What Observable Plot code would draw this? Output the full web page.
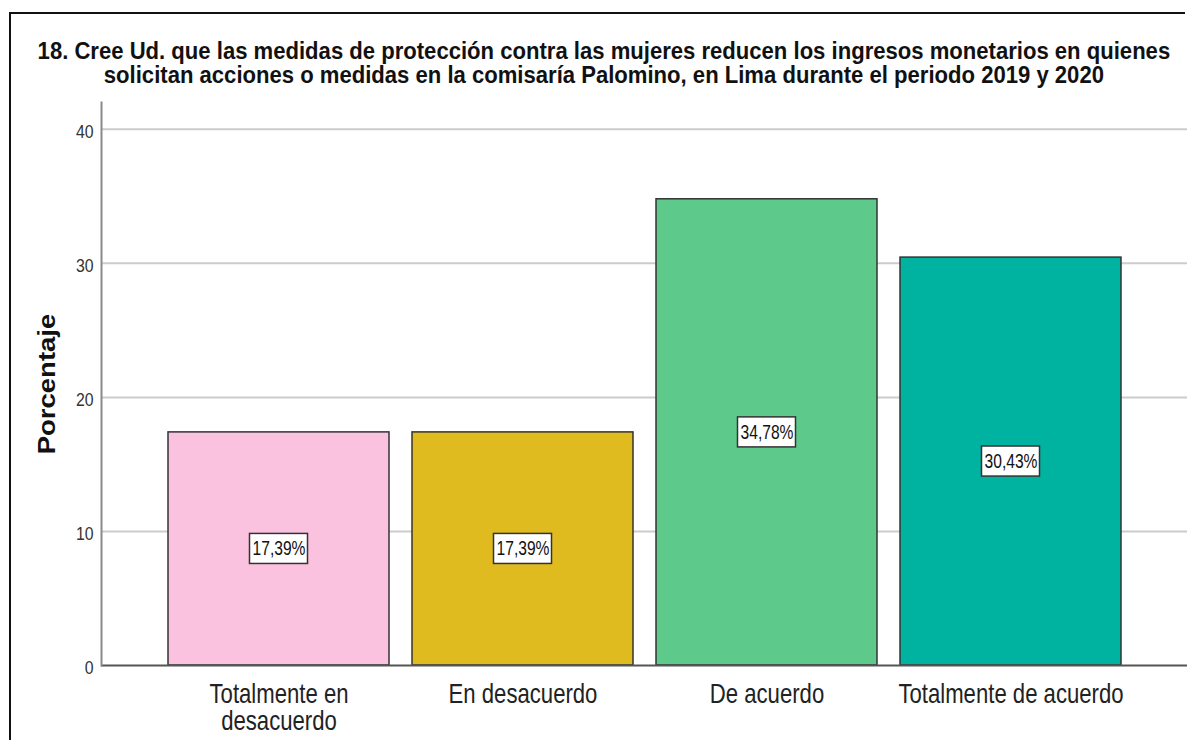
<!DOCTYPE html>
<html>
<head>
<meta charset="utf-8">
<script src="https://cdn.jsdelivr.net/npm/d3@7"></script>
<script src="https://cdn.jsdelivr.net/npm/@observablehq/plot@0.6"></script>
<style>
  html, body { margin: 0; padding: 0; background: #fff; }
  #wrap { position: relative; width: 1187px; height: 740px; overflow: hidden; font-family: "Liberation Sans", Arial, sans-serif; }
  #border { position: absolute; left: 9px; top: 12px; width: 1174px; height: 760px; border-left: 2px solid #111; border-top: 2px solid #111; pointer-events: none; }
  #head { position: relative; height: 95px; }
  #title { position: absolute; left: -96px; width: 1400px; top: 39px; text-align: center; font-size: 23px; font-weight: bold; line-height: 24px; color: #111; white-space: nowrap; }
  #title span { display: inline-block; transform: scaleX(0.96); transform-origin: 50% 50%; }
  #chart svg { display: block; }
</style>
</head>
<body>
<div id="wrap">
  <div id="border"></div>
  <div id="head"><div id="title"></div></div>
  <div id="chart"></div>
</div>
<script>
const titleLines = [
  "18. Cree Ud. que las medidas de protección contra las mujeres reducen los ingresos monetarios en quienes",
  "solicitan acciones o medidas en la comisaría Palomino, en Lima durante el periodo 2019 y 2020"
];
const categories = ["Totalmente en desacuerdo", "En desacuerdo", "De acuerdo", "Totalmente de acuerdo"];
const xTickLabels = ["Totalmente en\ndesacuerdo", "En desacuerdo", "De acuerdo", "Totalmente de acuerdo"];
const percentages = [17.39, 17.39, 34.78, 30.43];
const barColors = ["#fbc2e0", "#e0bb1f", "#5dc98b", "#00b3a0"];
const yTicks = [0, 10, 20, 30, 40];
const yLabel = "Porcentaje";

const titleEl = document.getElementById("title");
titleLines.forEach((line, i) => {
  const s = document.createElement("span");
  s.textContent = line;
  titleEl.appendChild(s);
  if (i < titleLines.length - 1) titleEl.appendChild(document.createElement("br"));
});

const data = categories.map((c, i) => ({category: c, value: percentages[i]}));
const fmt = v => v.toFixed(2).replace(".", ",") + "%";
const boxHalf = 1.12;

const plot = Plot.plot({
  width: 1187,
  height: 645,
  marginTop: 7,
  marginBottom: 75,
  marginLeft: 101,
  marginRight: 0,
  style: {fontFamily: "'Liberation Sans', Arial, sans-serif", background: "transparent", color: "#222", overflow: "visible"},
  x: {domain: categories, paddingInner: 0.095, paddingOuter: 0.27, label: null, axis: null},
  y: {domain: [0, 42], label: null, axis: null},
  color: {domain: categories, range: barColors},
  marks: [
    Plot.gridY(yTicks.filter(t => t > 0), {stroke: "#cccccc", strokeOpacity: 1, strokeWidth: 2}),
    Plot.axisY(yTicks, {tickSize: 0, tickPadding: 8, fontSize: 18, fill: "#333", dy: 3, label: null}),
    Plot.axisX({tickSize: 0, tickPadding: 18, fontSize: 27, fill: "#222", label: null,
      tickFormat: d => xTickLabels[categories.indexOf(d)]}),
    Plot.barY(data, {x: "category", y: "value", fill: "category", stroke: "#333", strokeWidth: 1.5}),
    Plot.ruleY([0], {stroke: "#555", strokeWidth: 2}),
    Plot.frame({anchor: "left", stroke: "#8a8a8a", strokeWidth: 2}),
    Plot.barY(data, {x: "category", y1: d => d.value / 2 - boxHalf, y2: d => d.value / 2 + boxHalf,
      insetLeft: 81.5, insetRight: 81.5, fill: "white", stroke: "#333", strokeWidth: 1.5}),
    Plot.text(data, {x: "category", y: d => d.value / 2, text: d => fmt(d.value), fontSize: 19.5, fill: "#111"}),
    Plot.text([yLabel], {frameAnchor: "left", textAnchor: "middle", dx: -54, rotate: -90, text: d => d, fontSize: 27.5, fontWeight: "bold", fill: "#111"})
  ]
});

function squeezeWhere(pred, sx, sy) {
  plot.querySelectorAll("text").forEach(t => {
    if (!pred(t)) return;
    t.setAttribute("transform", (t.getAttribute("transform") || "") + ` scale(${sx},${sy})`);
  });
}
const inGroup = name => t => t.parentNode && t.parentNode.getAttribute("aria-label") === name;
const valueLabels = new Set(percentages.map(fmt));
squeezeWhere(inGroup("x-axis tick label"), 0.82, 1);
squeezeWhere(inGroup("y-axis tick label"), 0.88, 1);
squeezeWhere(t => valueLabels.has(t.textContent), 0.8, 1);
squeezeWhere(t => t.textContent === yLabel, 1, 0.86);

document.getElementById("chart").appendChild(plot);
</script>
</body>
</html>
